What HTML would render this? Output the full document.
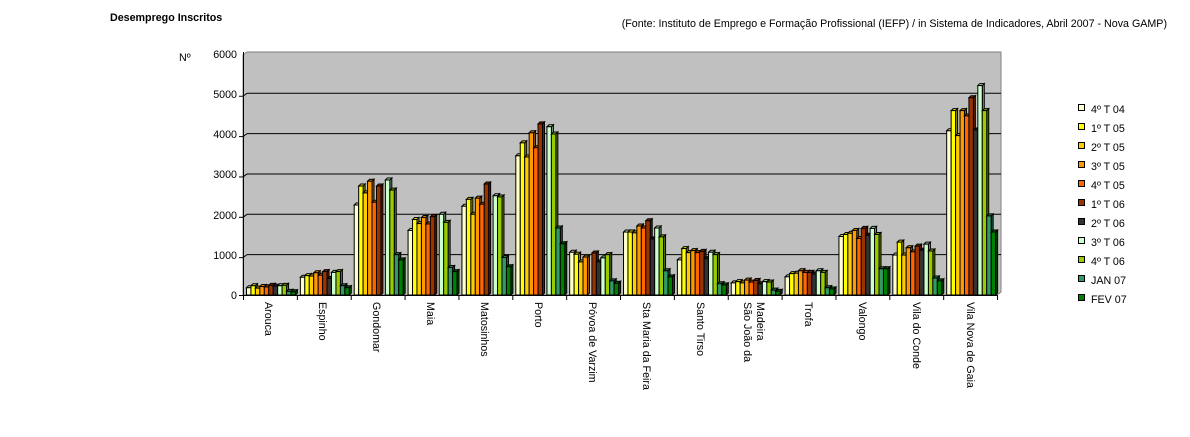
<!DOCTYPE html>
<html><head><meta charset="utf-8"><style>
body{margin:0;background:#fff;width:1190px;height:432px;overflow:hidden}
svg text{font-family:"Liberation Sans",sans-serif;font-size:10.7px;fill:#000}
</style></head><body>
<svg id="s" width="1190" height="432" xmlns="http://www.w3.org/2000/svg">
<text x="110" y="21" style="font-weight:bold">Desemprego Inscritos</text>
<text x="1167" y="27" text-anchor="end">(Fonte: Instituto de Emprego e Formação Profissional (IEFP) / in Sistema de Indicadores, Abril 2007 - Nova GAMP)</text>
<text x="179" y="61">Nº</text>
<polygon points="243,55 247,52 1001,52 1001,292 997,295 243,295" fill="#c0c0c0" stroke="#808080"/>
<g id="grid"></g>
<g text-anchor="end">
<text x="237" y="58">6000</text><text x="237" y="98">5000</text><text x="237" y="138">4000</text>
<text x="237" y="178">3000</text><text x="237" y="219">2000</text><text x="237" y="259">1000</text><text x="237" y="299">0</text>
</g>
<g id="bars"></g>
<line x1="243.5" y1="52" x2="243.5" y2="295" stroke="#000"/>
<line x1="243" y1="295.5" x2="997" y2="295.5" stroke="#000"/>
<g id="ticks"></g>
<g>
<text transform="translate(265,302) rotate(90)">Arouca</text>
<text transform="translate(319,302) rotate(90)">Espinho</text>
<text transform="translate(373,302) rotate(90)">Gondomar</text>
<text transform="translate(427,302) rotate(90)">Maia</text>
<text transform="translate(481,302) rotate(90)">Matosinhos</text>
<text transform="translate(535,302) rotate(90)">Porto</text>
<text transform="translate(589,302) rotate(90)">Póvoa de Varzim</text>
<text transform="translate(643,302) rotate(90)">Sta Maria da Feira</text>
<text transform="translate(697,302) rotate(90)">Santo Tirso</text>
<text transform="translate(744,302) rotate(90)">São João da</text>
<text transform="translate(757,302) rotate(90)">Madeira</text>
<text transform="translate(805,302) rotate(90)">Trofa</text>
<text transform="translate(859,302) rotate(90)">Valongo</text>
<text transform="translate(913,302) rotate(90)">Vila do Conde</text>
<text transform="translate(967,302) rotate(90)">Vila Nova de Gaia</text>
</g>
<g id="leg"></g>
<g>
<text x="1091" y="113">4º T 04</text><text x="1091" y="132">1º T 05</text><text x="1091" y="151">2º T 05</text>
<text x="1091" y="170">3º T 05</text><text x="1091" y="189">4º T 05</text><text x="1091" y="208">1º T 06</text>
<text x="1091" y="227">2º T 06</text><text x="1091" y="246">3º T 06</text><text x="1091" y="265">4º T 06</text>
<text x="1091" y="284">JAN 07</text><text x="1091" y="303">FEV 07</text>
</g>
</svg>
<script>
var C=["#FFFFCC","#FFFF00","#FFCC00","#FF9900","#FF6600","#993300","#333333","#CCFFCC","#99CC00","#339966","#008000"];
var D=[[180,230,170,210,200,240,220,230,240,90,80],
[440,480,470,550,490,580,410,560,580,230,180],
[2230,2700,2530,2820,2300,2700,0,2850,2600,1000,870],
[1600,1870,1770,1920,1760,1940,0,2000,1800,680,580],
[2200,2370,2000,2400,2250,2750,0,2460,2430,930,700],
[3450,3770,3420,4020,3650,4240,0,4170,3990,1660,1270],
[1060,1010,820,940,0,1040,820,920,1000,350,290],
[1560,1560,1540,1710,1660,1840,1390,1660,1440,600,450],
[870,1150,1050,1100,1050,1080,900,1060,1000,280,250],
[300,330,300,370,320,360,280,330,320,120,90],
[450,530,540,600,560,560,520,600,560,180,150],
[1450,1500,1530,1600,1400,1650,1480,1650,1500,650,650],
[990,1310,990,1170,1070,1210,1110,1260,1090,420,350],
[4070,4570,3950,4570,4440,4890,4090,5190,4570,1960,1560]];
function shade(h,f){var n=parseInt(h.slice(1),16),r=(n>>16)*f,g=((n>>8)&255)*f,b=(n&255)*f;return "rgb("+(r|0)+","+(g|0)+","+(b|0)+")";}
var out="";
for(var v=1;v<=5;v++){var y=295-v*40.35;out+='<line x1="247" y1="'+y+'" x2="1001" y2="'+y+'" stroke="#000"/><line x1="243" y1="'+(y+3)+'" x2="247" y2="'+y+'" stroke="#000"/><line x1="239" y1="'+(y+3)+'" x2="243" y2="'+(y+3)+'" stroke="#000"/>';}
out+='<line x1="239" y1="295.5" x2="243" y2="295.5" stroke="#000"/>';
document.getElementById("grid").innerHTML=out;
var b="",t="",W=53.86,bw=4.45;
for(var i=0;i<14;i++){var x0=243+i*W+3.5;
 for(var j=0;j<11;j++){var v=D[i][j];if(!v)continue;var h=v*0.04035,x=x0+j*bw,y=295-h,c=C[j];
  b+='<polygon points="'+(x+bw)+','+295+' '+(x+bw+2)+','+293+' '+(x+bw+2)+','+(y-2)+' '+(x+bw)+','+y+'" fill="'+shade(c,0.6)+'" stroke="#000" stroke-width="1"/>';
  b+='<polygon points="'+x+','+y+' '+(x+2)+','+(y-2)+' '+(x+bw+2)+','+(y-2)+' '+(x+bw)+','+y+'" fill="'+shade(c,0.85)+'" stroke="#000" stroke-width="1"/>';
  b+='<rect x="'+x+'" y="'+y+'" width="'+bw+'" height="'+h+'" fill="'+c+'" stroke="#000" stroke-width="1"/>';}
}
for(var i=0;i<=14;i++){var x=243.5+i*W;t+='<line x1="'+x+'" y1="295" x2="'+x+'" y2="300" stroke="#000"/>';}
document.getElementById("bars").innerHTML=b;document.getElementById("ticks").innerHTML=t;
var l="";for(var j=0;j<11;j++){l+='<rect x="1078.5" y="'+(104.5+j*19)+'" width="6" height="6" fill="'+C[j]+'" stroke="#000"/>';}
document.getElementById("leg").innerHTML=l;
</script>
</body></html>
